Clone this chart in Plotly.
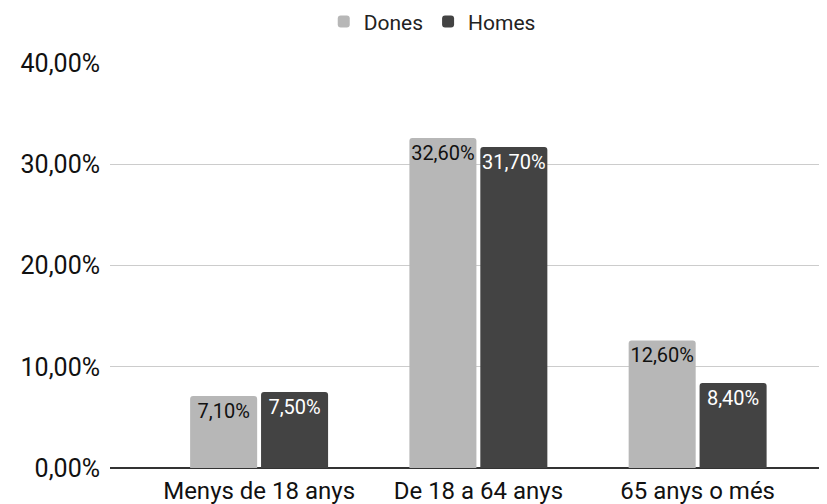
import plotly.graph_objects as go

categories = ["Menys de 18 anys", "De 18 a 64 anys", "65 anys o més"]
dones = [0.071, 0.326, 0.126]
homes = [0.075, 0.317, 0.084]
dones_labels = ["7,10%", "32,60%", "12,60%"]
homes_labels = ["7,50%", "31,70%", "8,40%"]

fig = go.Figure()
fig.add_trace(go.Bar(
    name="Dones", x=categories, y=dones, text=dones_labels,
    marker=dict(color="#b7b7b7", line=dict(width=0)),
    textposition="inside", insidetextanchor="end", textangle=0,
    textfont=dict(color="#111111", size=20, family="Roboto"),
    constraintext="none", cliponaxis=False,
))
fig.add_trace(go.Bar(
    name="Homes", x=categories, y=homes, text=homes_labels,
    marker=dict(color="#434343", line=dict(width=0)),
    textposition="inside", insidetextanchor="end", textangle=0,
    textfont=dict(color="#ffffff", size=20, family="Roboto"),
    constraintext="none", cliponaxis=False,
))

fig.update_layout(
    width=819, height=496,
    margin=dict(l=102, r=0, t=55, b=36, autoexpand=False),
    paper_bgcolor="white", plot_bgcolor="white",
    font=dict(family="Roboto", color="#222222"),
    separators=",.",
    barmode="group", bargap=0.353, bargroupgap=0.055,
    barcornerradius=3,
    legend=dict(orientation="h", xref="container", yref="container",
                x=0.518, xanchor="center", y=0.972, yanchor="middle",
                font=dict(size=21, color="#222222"), itemwidth=30,
                traceorder="normal"),
    xaxis=dict(range=[-0.68, 2.59], showgrid=False, showline=False, automargin=False,
               tickfont=dict(size=24, color="#111111"), ticks="", ticklabelstandoff=6),
    yaxis=dict(range=[0, 0.40], tickvals=[0, 0.1, 0.2, 0.3, 0.4], tickformat=".2%",
               automargin=False,
               showgrid=True, gridcolor="#cccccc", gridwidth=1,
               zeroline=True, zerolinecolor="#333333", zerolinewidth=1.5,
               tickfont=dict(size=25, color="#111111"), ticklabelstandoff=9),
)

fig.write_html("out.html")
